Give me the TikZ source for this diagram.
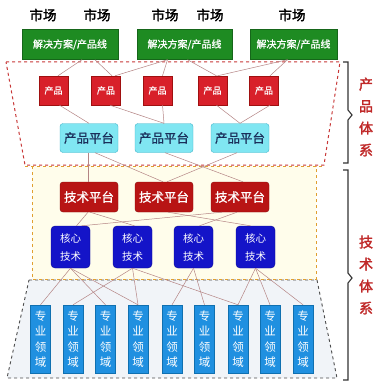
\documentclass[tikz,border=0pt]{standalone}
\usepackage{fontspec}
\setmainfont{Noto Sans CJK SC}
\newfontfamily\cjkb[FakeBold=2]{Noto Sans CJK SC}
\newfontfamily\cjkm[FakeBold=0.8]{Noto Sans CJK SC}
\usetikzlibrary{calc}
\definecolor{gfill}{HTML}{1E8B22}
\definecolor{gdraw}{HTML}{16661A}
\definecolor{pfill}{HTML}{D8202A}
\definecolor{pdraw}{HTML}{A01010}
\definecolor{cfill}{HTML}{80E6F2}
\definecolor{cdraw}{HTML}{40B4C8}
\definecolor{ctext}{HTML}{1A2E5A}
\definecolor{tfill}{HTML}{B81414}
\definecolor{tdraw}{HTML}{8A0A0A}
\definecolor{kfill}{HTML}{1414C8}
\definecolor{kdraw}{HTML}{0A0A90}
\definecolor{sfill}{HTML}{2090E0}
\definecolor{sdraw}{HTML}{1070B0}
\definecolor{link}{HTML}{B48484}
\definecolor{redline}{HTML}{C83838}
\definecolor{yelline}{HTML}{E0A030}
\definecolor{yelfill}{HTML}{FFFDEB}
\definecolor{grayfill}{HTML}{F1F4F8}
\definecolor{lbl}{HTML}{C02828}
\tikzset{
  market/.style={font=\cjkb\fontsize{13.5}{14}\selectfont, text=black, inner sep=0},
  green/.style={fill=gfill, draw=gdraw, minimum height=30pt, inner sep=0, text=white, font=\cjkm\fontsize{10}{11}\selectfont},
  prod/.style={fill=pfill, draw=pdraw, minimum width=29pt, minimum height=29pt, inner sep=0, text=white, font=\cjkm\fontsize{9}{10}\selectfont},
  pplat/.style={fill=cfill, draw=cdraw, rounded corners=3pt, minimum width=58pt, minimum height=29pt, inner sep=0, text=ctext, font=\cjkm\fontsize{12.5}{13}\selectfont},
  tplat/.style={fill=tfill, draw=tdraw, rounded corners=3pt, minimum width=58pt, minimum height=30pt, inner sep=0, text=white, font=\cjkm\fontsize{12.5}{13}\selectfont},
  core/.style={fill=kfill, draw=kdraw, rounded corners=4pt, minimum width=39pt, minimum height=42pt, inner sep=0, text=white, align=center, font=\fontsize{10.5}{18}\selectfont},
  spec/.style={fill=sfill, draw=sdraw, minimum width=20pt, minimum height=68pt, inner sep=0, text=white, align=center, font=\fontsize{11.5}{15.5}\selectfont},
  vlabel/.style={text=lbl, align=center, inner sep=0, font=\cjkb\fontsize{14}{22}\selectfont},
  lk/.style={draw=link, line width=0.5pt},
  brace/.style={draw=black!80, line width=1.1pt},
}
\begin{document}
\begin{tikzpicture}[x=1pt,y=-1pt]
\useasboundingbox (0,0) rectangle (376,385);
\fill[white] (0,0) rectangle (376,385);
% regions
\path[fill=grayfill, draw=black!70, dashed, line width=0.9pt] (29,280) -- (317,280) -- (337,378) -- (7,378) -- cycle;
\path[fill=yelfill, draw=yelline, dashed, line width=0.9pt] (32,166) rectangle (316,279);
\path[fill=white, draw=redline, dashed, line width=1pt] (6,62) -- (340,62) -- (324,165) -- (25,165) -- cycle;
\draw[yelline, dashed, line width=0.9pt] (25,166) -- (324,166);
% braces
\draw[brace] (343,62) -- (348,62) -- (348,110) -- (352,115) -- (348,120) -- (348,163) -- (343,163);
\draw[brace] (343,170) -- (348,170) -- (348,273) -- (352,278) -- (348,283) -- (348,380) -- (343,380);
\node[vlabel] (lab1) at (366,117) {产\\品\\体\\系};
\node[vlabel] (lab2) at (366,275) {技\\术\\体\\系};
% markets
\node[market] (m1) at (43,15) {市场};
\node[market] (m2) at (97,15) {市场};
\node[market] (m3) at (165,15) {市场};
\node[market] (m4) at (210,15) {市场};
\node[market] (m5) at (292,15) {市场};
% solutions
\node[green, minimum width=96pt] (g1) at (70,44.5) {解决方案/产品线};
\node[green, minimum width=95pt] (g2) at (184.5,44.5) {解决方案/产品线};
\node[green, minimum width=87pt] (g3) at (293.5,44.5) {解决方案/产品线};
% products
\node[prod] (p1) at (53.5,90.5) {产品};
\node[prod] (p2) at (106,90.5) {产品};
\node[prod] (p3) at (157.5,90.5) {产品};
\node[prod] (p4) at (212.5,90.5) {产品};
\node[prod] (p5) at (264,90.5) {产品};
% product platforms
\node[pplat] (pp1) at (89,138) {产品平台};
\node[pplat] (pp2) at (164,138) {产品平台};
\node[pplat] (pp3) at (240,138) {产品平台};
% tech platforms
\node[tplat] (tp1) at (89,197) {技术平台};
\node[tplat] (tp2) at (164,197) {技术平台};
\node[tplat] (tp3) at (240,197) {技术平台};
% core tech
\node[core] (c1) at (70.5,247) {核心\\技术};
\node[core] (c2) at (132.5,247) {核心\\技术};
\node[core] (c3) at (193.5,247) {核心\\技术};
\node[core] (c4) at (255.5,247) {核心\\技术};
% specialty
\foreach \i/\x in {1/40.5,2/73,3/105.5,4/138,5/172,6/204.5,7/238,8/270,9/303}
  \node[spec] (s\i) at (\x,339) {专\\业\\领\\域};
% links: solutions -> products
\draw[lk] ([xshift=12pt]g1.south) -- ([xshift=4.5pt]p1.north);
\draw[lk] ([xshift=25pt]g1.south) -- ([xshift=6pt]p2.north);
\draw[lk] ([xshift=-17pt]g2.south) -- ([xshift=9pt]p2.north);
\draw[lk] ([xshift=-17pt]g2.south) -- ([xshift=5pt]p3.north);
\draw[lk] ([xshift=3pt]g2.south) -- ([xshift=4pt]p4.north);
\draw[lk] ([xshift=-6pt]g3.south) -- ([xshift=5pt]p4.north);
\draw[lk] ([xshift=-6pt]g3.south) -- ([xshift=6pt]p5.north);
% products -> product platforms
\draw[lk] ([xshift=6pt]p1.south) -- (pp1.north);
\draw[lk] ([xshift=4pt]p2.south) -- (pp2.north);
\draw[lk] ([xshift=5pt]p3.south) -- (pp2.north);
\draw[lk] ([xshift=4pt]p4.south) -- (pp3.north);
\draw[lk] ([xshift=6pt]p5.south) -- (pp3.north);
% product platforms -> tech platforms
\draw[lk] ([xshift=-1pt]pp1.south) -- ([xshift=-1pt]tp1.north);
\draw[lk] ([xshift=6pt]pp1.south) -- ([xshift=-1pt]tp2.north);
\draw[lk] ([xshift=1pt]pp2.south) -- ([xshift=3pt]tp3.north);
\draw[lk] ([xshift=-3pt]pp3.south) -- ([xshift=3pt]tp2.north);
% tech platforms -> core
\draw[lk] ([xshift=-1pt]tp1.south) -- ([xshift=6pt]c1.north);
\draw[lk] ([xshift=1pt]tp1.south) -- ([xshift=2pt]c2.north);
\draw[lk] ([xshift=11pt]c1.north) -- ([xshift=-18pt]tp3.south);
\draw[lk] ([xshift=-3pt]tp3.south) -- ([xshift=6pt]c3.north);
\draw[lk] ([xshift=4pt]tp2.south) -- ([xshift=-5pt]c4.north);
% core -> specialty
\foreach \a/\b in {c1/s1,c1/s3,c1/s4,c2/s2,c2/s4,c2/s7,c3/s5,c3/s6,c4/s7,c4/s8,c4/s9}
  \draw[lk] (\a.south) -- (\b.north);
\end{tikzpicture}
\end{document}
